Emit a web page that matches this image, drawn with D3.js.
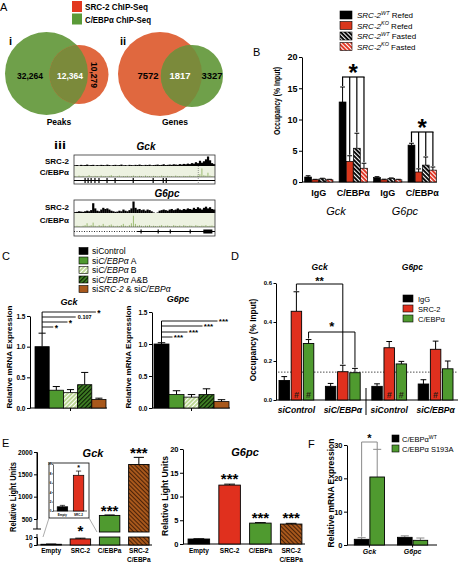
<!DOCTYPE html>
<html><head><meta charset="utf-8">
<script src="https://cdn.jsdelivr.net/npm/d3@7/dist/d3.min.js"></script>
<style>html,body{margin:0;padding:0;background:#fff;}svg{display:block;}</style>
</head><body>
<svg id="fig" width="458" height="565" xmlns="http://www.w3.org/2000/svg"></svg>
<script>
// ================= DATA =================
// A (i, ii): Venn diagrams
const legendA = ["SRC-2 ChIP-Seq", "C/EBPα ChIP-Seq"];
const vennPeaksLabels = ["32,264", "12,364", "10,279"];
const vennPeaksSets = [44628, 22643];          // C/EBPα peaks, SRC-2 peaks
const vennGenesLabels = ["7572", "1817", "3327"];
const vennGenesSets = [9389, 5144];            // SRC-2 genes, C/EBPα genes
// A (iii): ChIP-Seq tracks (relative signal per bin)
const gckSrc2 = [0.08,0.1,0.06,0.12,0.08,0.1,0.15,0.08,0.1,0.12,0.06,0.1,0.08,0.12,0.1,0.08,0.14,0.1,0.06,0.1,
  0.12,0.08,0.1,0.15,0.08,0.1,0.06,0.12,0.1,0.08,0.12,0.1,0.15,0.1,0.08,0.12,0.1,0.14,0.08,0.1,
  0.12,0.15,0.1,0.12,0.18,0.1,0.12,0.15,0.12,0.18,0.15,0.12,0.2,0.15,0.22,0.18,0.25,0.2,0.3,0.25,
  0.4,0.3,0.55,0.35,0.5,0.7,1.0,0.6,0.3,0.2];
const gckCebpa = [0.1,0.05,0.15,0.08,0.12,0.05,0.1,0.2,0.08,0.05,0.12,0.1,0.05,0.15,0.08,0.1,0.05,0.12,0.2,0.08,
  0.05,0.1,0.15,0.05,0.1,0.08,0.12,0.05,0.1,0.15,0.08,0.05,0.12,0.1,0.05,0.15,0.08,0.1,0.05,0.12,
  0.1,0.05,0.08,0.15,0.1,0.05,0.12,0.08,0.1,0.05,0.15,0.08,0.1,0.05,0.12,0.1,0.08,0.15,0.1,0.12,
  0.08,0.15,0.3,0.9,0.2,0.15,0.45,0.15,0.1,0.05];
const gckExons = [5.5, 7, 8.5, 10.4, 12.4, 16.4, 20.4, 29.4, 39.3, 44.3, 45.8];
const gckTss = 61.7;
const g6pcSrc2 = [0.08,0.1,0.15,0.12,0.1,0.15,0.2,0.15,0.25,0.85,0.4,0.2,0.15,0.3,0.45,0.35,0.4,0.3,0.2,0.15,
  0.1,0.12,0.2,0.15,0.3,0.2,0.15,0.25,0.4,1.0,0.45,0.3,0.35,0.25,0.3,0.2,0.3,0.25,0.15,0.05,
  0.0,0.05,0.2,0.25,0.3,0.25,0.2,0.3,0.35,0.25,0.3,0.4,0.3,0.25,0.35,0.3,0.4,0.35,0.3,0.45,
  0.35,0.5,0.4,0.3,0.45,0.55,0.4,0.5,0.35,0.3];
const g6pcCebpa = [0.05,0.1,0.08,0.05,0.1,0.15,0.3,0.1,0.15,0.35,0.1,0.05,0.15,0.1,0.25,0.1,0.05,0.15,0.2,0.1,
  0.05,0.1,0.08,0.15,0.25,0.1,0.05,0.15,0.3,0.9,0.25,0.1,0.15,0.1,0.05,0.12,0.1,0.15,0.05,0.1,
  0.08,0.05,0.1,0.15,0.05,0.1,0.12,0.08,0.05,0.15,0.1,0.08,0.12,0.05,0.15,0.1,0.08,0.12,0.1,0.05,
  0.15,0.1,0.08,0.12,0.1,0.15,0.08,0.1,0.12,0.05];
const g6pcGeneStart = 31.3;
const g6pcExons = [33.3, 41.8, 47.8, 57.7];
const g6pcBlock = [64.2, 68.7];

// B
const bGroups = ["IgG", "C/EBPα", "IgG", "C/EBPα"];
const bGenes = ["Gck", "G6pc"];
const bLegendSup = ["WT", "KO", "WT", "KO"];
const bLegendCond = ["Refed", "Refed", "Fasted", "Fasted"];
const bWtRefed = [0.8, 12.8, 0.7, 5.9];
const bWtRefedErr = [0.2, 2.4, 0.15, 0.3];
const bKoRefed = [0.35, 3.3, 0.35, 1.6];
const bKoRefedErr = [0.08, 0.9, 0.1, 0.5];
const bWtFasted = [0.5, 5.4, 0.55, 2.7];
const bWtFastedErr = [0.1, 2.4, 0.1, 1.3];
const bKoFasted = [0.35, 2.2, 0.35, 1.9];
const bKoFastedErr = [0.08, 0.8, 0.08, 0.5];
const bTicks = [0, 5, 10, 15, 20];
const bSigGroups = [1, 3];

// C
const cLegend = ["siControl", "siC/EBPα A", "siC/EBPα B", "siC/EBPα A&B", "siSRC-2 & siC/EBPα"];
const cGck = [1.0, 0.29, 0.25, 0.38, 0.14];
const cGckErr = [0.22, 0.06, 0.05, 0.2, 0.02];
const cG6pc = [1.0, 0.21, 0.17, 0.21, 0.10];
const cG6pcErr = [0.02, 0.06, 0.04, 0.09, 0.03];
const cGckSig = ["*", "0.107", "*", "*"];        // vs bars 4,3,2,1 (top to bottom)
const cG6pcSig = ["***", "***", "***", "***"];
const cTicks = [0, 0.5, 1.0, 1.5];

// D
const dGroups = ["siControl", "siC/EBPα", "siControl", "siC/EBPα"];
const dGenes = ["Gck", "G6pc"];
const dSeries = ["IgG", "SRC-2", "C/EBPα"];
const dIgG = [0.10, 0.07, 0.07, 0.082];
const dIgGErr = [0.02, 0.015, 0.013, 0.022];
const dSrc2 = [0.455, 0.145, 0.268, 0.26];
const dSrc2Err = [0.1, 0.033, 0.032, 0.042];
const dCebpa = [0.29, 0.14, 0.185, 0.16];
const dCebpaErr = [0.02, 0.022, 0.013, 0.04];
const dSrc2Hash = [1, 0, 1, 1];
const dCebpaHash = [1, 0, 1, 0];
const dThreshold = 0.143;
const dTicks = [0, 0.2, 0.4, 0.6];

// E
const eLabels = [["Empty"], ["SRC-2"], ["C/EBPa"], ["SRC-2", "C/EBPa"]];
const eGck = [0.9, 7.6, 580, 1720];
const eGckErr = [0.3, 0.9, 10, 160];
const eGckSig = ["", "*", "***", "***"];
const eG6pc = [1.05, 12.4, 4.4, 4.2];
const eG6pcErr = [0.05, 0.2, 0.1, 0.15];
const eG6pcSig = ["", "***", "***", "***"];
const eGckTicksUp = [500, 1000, 1500, 2000];
const eGckTicksLow = [0, 10];
const eG6pcTicks = [0, 5, 10, 15, 20];
const eInsetLabels = ["Empty", "SRC-2"];
const eInsetTicks = [0, 2, 4, 6, 8, 10];

// F
const fGroups = ["Gck", "G6pc"];
const fWt = [1.7, 2.3];
const fWtErr = [0.5, 0.45];
const fS193A = [20.4, 1.4];
const fS193AErr = [8.3, 0.7];
const fTicks = [0, 10, 20, 30];

// ================= HELPERS =================
const FONT = 'Arial, "Liberation Sans", Helvetica, sans-serif';
const svg = d3.select("#fig").attr("font-family", FONT);
svg.append("rect").attr("width", 458).attr("height", 565).attr("fill", "#fff");
const defs = svg.append("defs");
const RED = "#e0301e", GREEN = "#4f9a2f", BROWN = "#a8581c";
const STAR = 0.37; // asterisk glyph centre above baseline (em)

function T(g, x, y, s, o = {}) {
  const t = g.append("text").attr("x", x).attr("y", y)
    .attr("font-size", o.fs || 9)
    .attr("font-weight", o.b ? "bold" : "normal")
    .attr("font-style", o.i ? "italic" : "normal")
    .attr("text-anchor", o.a || "start")
    .attr("fill", o.c || "#000").text(s);
  if (o.r) t.attr("transform", `rotate(${o.r},${x},${y})`);
  if (o.len) t.attr("textLength", o.len).attr("lengthAdjust", "spacingAndGlyphs");
  return t;
}
// star text centred vertically on y
function S(g, x, yc, s, fs) { return T(g, x, yc + STAR * fs, s, { fs, b: true, a: "middle" }); }
function R(g, x, y, parts, o = {}) {
  const fs = o.fs || 8;
  const t = g.append("text").attr("x", x).attr("y", y).attr("font-size", fs)
    .attr("font-weight", o.b ? "bold" : "normal").attr("text-anchor", o.a || "start").attr("fill", "#000");
  let up = false;
  parts.forEach(p => {
    const s = t.append("tspan").text(p.t).attr("font-style", p.i ? "italic" : "normal");
    if (p.sup) { s.attr("font-size", fs * 0.68).attr("dy", -fs * 0.38); up = true; }
    else if (up) { s.attr("dy", fs * 0.38); up = false; }
  });
  return t;
}
function hatch(id, bg, fg, angle, size, lw) {
  const p = defs.append("pattern").attr("id", id).attr("patternUnits", "userSpaceOnUse")
    .attr("width", size).attr("height", size).attr("patternTransform", `rotate(${angle})`);
  p.append("rect").attr("width", size).attr("height", size).attr("fill", bg);
  p.append("rect").attr("width", lw).attr("height", size).attr("fill", fg);
}
hatch("hBlk", "#000", "#fff", -45, 3, 1.1);
hatch("hRed", RED, "#fff", -45, 3, 1.1);
hatch("hLight", "#b9d68f", "#fff", 45, 3, 1.1);
hatch("hDark", "#3f7f24", "#0b1a05", 45, 3, 1.1);
hatch("hBrown", BROWN, "#4a2208", -45, 3, 1.0);

function yAxis(g, scale, x, ticks, fs, fmt, len = 3) {
  const a = g.append("g").attr("transform", `translate(${x},0)`)
    .call(d3.axisLeft(scale).tickValues(ticks).tickSize(len).tickSizeOuter(0).tickPadding(1.5)
      .tickFormat(fmt || (d => d)));
  a.attr("font-family", FONT).attr("font-size", fs).attr("font-weight", "bold");
  a.selectAll("path,line").attr("stroke", "#000").attr("stroke-width", 1);
  a.selectAll("text").attr("fill", "#000");
  return a;
}
function line(g, x1, y1, x2, y2, o = {}) {
  const l = g.append("line").attr("x1", x1).attr("y1", y1).attr("x2", x2).attr("y2", y2)
    .attr("stroke", o.c || "#000").attr("stroke-width", o.w || 1);
  if (o.dash) l.attr("stroke-dasharray", o.dash);
  return l;
}
function bar(g, x, w, yTop, yBot, fill, sw = 0.9) {
  g.append("rect").attr("x", x).attr("y", yTop).attr("width", w).attr("height", Math.max(0, yBot - yTop))
    .attr("fill", fill).attr("stroke", "#000").attr("stroke-width", sw);
}
function err(g, cx, y0, y1, cap, c = "#000", w = 1) {
  line(g, cx, y0, cx, y1, { c, w });
  line(g, cx - cap / 2, y1, cx + cap / 2, y1, { c, w });
}

// ================= PANEL A =================
const gA = svg.append("g");
T(gA, 0, 11, "A", { fs: 11 });
const aLegendColors = ["#e2381f", "#5a9a38"];
legendA.forEach((s, i) => {
  gA.append("rect").attr("x", 72).attr("y", 1 + i * 12.5).attr("width", 10).attr("height", 11).attr("fill", aLegendColors[i]);
  T(gA, 85, 10 + i * 12.5, s, { fs: 9.5, b: true, len: i ? 66 : 63 });
});
const VG = "#6fa04a", VR = "#e0683f", VO = "#7b8a3b";
function venn(id, big, small, bigColor, smallColor) {
  gA.append("circle").attr("cx", big.x).attr("cy", big.y).attr("r", big.r).attr("fill", bigColor);
  gA.append("circle").attr("cx", small.x).attr("cy", small.y).attr("r", small.r).attr("fill", smallColor);
  defs.append("clipPath").attr("id", id).append("circle").attr("cx", small.x).attr("cy", small.y).attr("r", small.r);
  gA.append("circle").attr("cx", big.x).attr("cy", big.y).attr("r", big.r).attr("fill", VO).attr("clip-path", `url(#${id})`);
}
const rPeaks = d3.scaleSqrt().domain([0, d3.max(vennPeaksSets)]).range([0, 41.5]);
const pBig = { x: 46.5, y: 73.5, r: rPeaks(vennPeaksSets[0]) };
const pSmall = { x: 108.5 - rPeaks(vennPeaksSets[1]), y: 74.5, r: rPeaks(vennPeaksSets[1]) };
venn("clipPeaks", pBig, pSmall, VG, VR);
const rGenes = d3.scaleSqrt().domain([0, d3.max(vennGenesSets)]).range([0, 42]);
const gBig = { x: 160, y: 74, r: rGenes(vennGenesSets[0]) };
const gSmall = { x: 223 - rGenes(vennGenesSets[1]), y: 76, r: rGenes(vennGenesSets[1]) };
venn("clipGenes", gBig, gSmall, VR, VG);
T(gA, 30, 79, vennPeaksLabels[0], { fs: 9.5, b: true, a: "middle", len: 26 });
T(gA, 70, 79, vennPeaksLabels[1], { fs: 9.5, b: true, a: "middle", c: "#fff", len: 26 });
T(gA, 91, 75, vennPeaksLabels[2], { fs: 9.5, b: true, a: "middle", r: 90, len: 26 });
T(gA, 148, 79, vennGenesLabels[0], { fs: 9.5, b: true, a: "middle" });
T(gA, 180, 79, vennGenesLabels[1], { fs: 9.5, b: true, a: "middle", c: "#fff" });
T(gA, 212, 79, vennGenesLabels[2], { fs: 9.5, b: true, a: "middle" });
T(gA, 59, 125, "Peaks", { fs: 8.5, b: true, a: "middle" });
T(gA, 175, 125, "Genes", { fs: 8.5, b: true, a: "middle" });
T(gA, 9, 45, "i", { fs: 11, b: true });
T(gA, 120, 45, "ii", { fs: 11, b: true });
T(gA, 54, 149, "iii", { fs: 11, b: true, len: 12 });

function track(title, titleX, titleY, top, h1, h2, h3, src, ceb) {
  const x = d3.scaleLinear().domain([0, src.length]).range([74, 215]);
  T(gA, titleX, titleY, title, { fs: 10, b: true, i: true, a: "middle" });
  const y1 = d3.scaleLinear().domain([0, 1]).range([top + h1, top + 1.5]);
  const t2 = top + h1;
  const y2 = d3.scaleLinear().domain([0, 1]).range([t2 + h2, t2 + 1.5]);
  gA.append("rect").attr("x", 74).attr("y", t2).attr("width", 141).attr("height", h2).attr("fill", "#edf2e1");
  gA.selectAll(null).data(src).join("rect")
    .attr("x", (d, i) => x(i)).attr("y", d => y1(d)).attr("width", (d, i) => x(i + 1) - x(i) + 0.2)
    .attr("height", d => y1(0) - y1(d)).attr("fill", "#000");
  gA.selectAll(null).data(ceb).join("line")
    .attr("x1", (d, i) => x(i) + 1).attr("x2", (d, i) => x(i) + 1)
    .attr("y1", y2(0)).attr("y2", d => y2(d)).attr("stroke", "#93b567").attr("stroke-width", 0.9);
  gA.append("rect").attr("x", 74).attr("y", top).attr("width", 141).attr("height", h1 + h2 + h3)
    .attr("fill", "none").attr("stroke", "#333").attr("stroke-width", 0.8);
  line(gA, 74, t2 + h2, 215, t2 + h2, { c: "#333", w: 0.6 });
  T(gA, 69, top + h1 / 2 + 3, "SRC-2", { fs: 8, b: true, a: "end" });
  T(gA, 69, t2 + h2 / 2 + 3, "C/EBPα", { fs: 8, b: true, a: "end" });
  return { x, gy: t2 + h2 + h3 / 2, t3: t2 + h2 };
}
const tg = track("Gck", 146, 150, 155, 11, 11, 7, gckSrc2, gckCebpa);
line(gA, 74, tg.gy, 215, tg.gy, { w: 1 });
gckExons.forEach(e => line(gA, tg.x(e), tg.gy - 2.5, tg.x(e), tg.gy + 2.5, { w: 1.2 }));
line(gA, tg.x(gckTss), 166, tg.x(gckTss), 184, { c: "#555", w: 0.6, dash: "1,1" });
const t6 = track("G6pc", 167, 197, 200, 13, 14, 9, g6pcSrc2, g6pcCebpa);
line(gA, 74, t6.gy, t6.x(g6pcGeneStart), t6.gy, { w: 0.8, dash: "1,1.5" });
line(gA, t6.x(g6pcGeneStart), t6.gy, 215, t6.gy, { w: 1 });
g6pcExons.forEach(e => line(gA, t6.x(e), t6.gy - 2, t6.x(e), t6.gy + 2, { w: 1.2 }));
gA.append("rect").attr("x", t6.x(g6pcBlock[0])).attr("y", t6.gy - 2).attr("width", t6.x(g6pcBlock[1]) - t6.x(g6pcBlock[0]))
  .attr("height", 4).attr("fill", "#000");

// ================= PANEL B =================
const gB = svg.append("g");
T(gB, 253, 56, "B", { fs: 11 });
const bFills = ["#000", "#d9361c", "url(#hBlk)", "url(#hRed)"];
bLegendSup.forEach((s, i) => {
  gB.append("rect").attr("x", 340).attr("y", 11 + i * 10.5).attr("width", 12).attr("height", 8)
    .attr("fill", bFills[i]).attr("stroke", "#000").attr("stroke-width", 0.6);
  R(gB, 357, 18 + i * 10.5, [{ t: "SRC-2", i: true }, { t: s, i: true, sup: true }, { t: " " + bLegendCond[i] }], { fs: 8 });
});
const bY = d3.scaleLinear().domain([0, 20]).range([182, 57]);
yAxis(gB, bY, 302, bTicks, 9, null, 3);
line(gB, 302, 182, 437, 182);
T(gB, 280, 101, "Occupancy (% Input)", { fs: 9, b: true, a: "middle", r: -90, len: 68 });
const bX0 = d3.scaleBand().domain(d3.range(4)).range([304, 437]).paddingInner(0.18).paddingOuter(0.02);
const bX1 = d3.scaleBand().domain(d3.range(4)).range([0, bX0.bandwidth()]).paddingInner(0.04);
const bVals = [bWtRefed, bKoRefed, bWtFasted, bKoFasted];
const bErrs = [bWtRefedErr, bKoRefedErr, bWtFastedErr, bKoFastedErr];
bGroups.forEach((gname, g) => {
  bVals.forEach((arr, s) => {
    const x = bX0(g) + bX1(s), w = bX1.bandwidth();
    err(gB, x + w / 2, bY(arr[g]), bY(arr[g] + bErrs[s][g]), w * 0.7);
    bar(gB, x, w, bY(arr[g]), bY(0), bFills[s], 0.7);
  });
  T(gB, bX0(g) + bX0.bandwidth() / 2, 196, gname, { fs: 9, b: true, a: "middle" });
});
bGenes.forEach((gn, k) => {
  const c = (bX0(2 * k) + bX0(2 * k + 1) + bX0.bandwidth()) / 2;
  T(gB, c, 215, gn, { fs: 11, i: true, a: "middle" });
});
bSigGroups.forEach((g, k) => {
  const by = [77, 132][k];
  const cs = bVals.map((arr, s) => bX0(g) + bX1(s) + bX1.bandwidth() / 2);
  bVals.forEach((arr, s) => line(gB, cs[s], by, cs[s], bY(arr[g] + bErrs[s][g]) - 1, { w: 1.2 }));
  line(gB, cs[0] - 0.6, by, cs[3] + 0.6, by, { w: 1.2 });
  S(gB, (cs[0] + cs[3]) / 2, by - 5, "*", 24);
});

// ================= PANEL C =================
const gC = svg.append("g");
T(gC, 2, 260, "C", { fs: 11 });
const cFills = ["#000", GREEN, "url(#hLight)", "url(#hDark)", BROWN];
const cParts = [
  [{ t: "siControl" }],
  [{ t: "si" }, { t: "C/EBPα", i: true }, { t: " A" }],
  [{ t: "si" }, { t: "C/EBPα", i: true }, { t: " B" }],
  [{ t: "si" }, { t: "C/EBPα", i: true }, { t: " A&B" }],
  [{ t: "si" }, { t: "SRC-2", i: true }, { t: " & si" }, { t: "C/EBPα", i: true }]
];
cLegend.forEach((s, i) => {
  const cy = 251 + i * 9.5;
  gC.append("rect").attr("x", 79).attr("y", cy - 3.5).attr("width", 9).attr("height", 7)
    .attr("fill", cFills[i]).attr("stroke", "#000").attr("stroke-width", 0.6);
  R(gC, 92, cy + 3, cParts[i], { fs: 8.5 });
});
function cPlot(vals, errs, title, titleX, titleY, ax, x0, x1, yTop, labelX) {
  const y = d3.scaleLinear().domain([0, 1.5]).range([408, yTop]);
  const x = d3.scaleBand().domain(d3.range(vals.length)).range([x0, x1]);
  yAxis(gC, y, ax, cTicks, 6.5, d3.format(".1f"), 3);
  line(gC, ax, 408, x1 + 1, 408);
  line(gC, (x0 + x1) / 2, 408, (x0 + x1) / 2, 411);
  T(gC, labelX, 357, "Relative mRNA Expression", { fs: 8, b: true, a: "middle", r: -90, len: 103 });
  T(gC, titleX, titleY, title, { fs: 9, b: true, i: true, a: "middle" });
  vals.forEach((v, i) => {
    const w = x.bandwidth();
    err(gC, x(i) + w / 2, y(v), y(v + errs[i]), w * 0.5);
    bar(gC, x(i), w, y(v), 408, cFills[i], 0.8);
  });
  return { x, y };
}
const cg = cPlot(cGck, cGckErr, "Gck", 69, 305, 30, 35, 106, 316, 12);
{
  const cx = cg.x(0) + cg.x.bandwidth() / 2;
  const ys = [312, 317, 322, 327];
  line(gC, cx, ys[0], cx, cg.y(cGck[0] + cGckErr[0]));
  cGckSig.forEach((s, k) => {
    const target = 4 - k;
    const tc = cg.x(target) + cg.x.bandwidth() / 2;
    const isNum = s.length > 2;
    const half = isNum ? 8 : 2;
    line(gC, cx, ys[k], tc - half - 1, ys[k], { w: 0.9 });
    if (isNum) T(gC, tc, ys[k] + 2, s, { fs: 5.5, b: true, a: "middle" });
    else S(gC, tc, ys[k] + 0.5, s, 8.5);
  });
}
const c6 = cPlot(cG6pc, cG6pcErr, "G6pc", 178, 302, 152, 154, 229, 312, 131);
{
  const cx = c6.x(0) + c6.x.bandwidth() / 2;
  const ys = [321, 326, 332, 337];
  line(gC, cx, ys[0], cx, c6.y(cG6pc[0] + cG6pcErr[0]));
  cG6pcSig.forEach((s, k) => {
    const target = 4 - k;
    const tc = c6.x(target) + c6.x.bandwidth() / 2 + 2;
    line(gC, cx, ys[k], tc - 6, ys[k], { w: 0.9 });
    S(gC, tc, ys[k] + 0.3, s, 8);
  });
}

// ================= PANEL D =================
const gD = svg.append("g");
T(gD, 231, 260, "D", { fs: 11 });
const dY = d3.scaleLinear().domain([0, 0.6]).range([400, 283]);
yAxis(gD, dY, 276, dTicks, 6, d3.format(".1f"), 2.5);
line(gD, 276, 400, 458, 400);
T(gD, 255.5, 340, "Occupancy (% Input)", { fs: 8.3, b: true, a: "middle", r: -90 });
const dX0 = d3.scaleBand().domain(d3.range(4)).range([279, 453]).paddingInner(0.25);
const dX1 = d3.scaleBand().domain(d3.range(3)).range([0, dX0.bandwidth()]).paddingInner(0.14);
const dFills = ["#000", RED, GREEN];
const dVals = [dIgG, dSrc2, dCebpa], dErrs = [dIgGErr, dSrc2Err, dCebpaErr], dHash = [null, dSrc2Hash, dCebpaHash];
const dC = (g, s) => dX0(g) + dX1(s) + dX1.bandwidth() / 2;
line(gD, 278, dY(dThreshold), 458, dY(dThreshold), { w: 0.7, dash: "1.5,1.5" });
dGroups.forEach((gn, g) => {
  dVals.forEach((arr, s) => {
    const x = dX0(g) + dX1(s), w = dX1.bandwidth();
    err(gD, x + w / 2, dY(arr[g]), dY(arr[g] + dErrs[s][g]), w * 0.55);
    bar(gD, x, w, dY(arr[g]), 400, dFills[s], 0.9);
    if (dHash[s] && dHash[s][g]) T(gD, x + w / 2, 398, "#", { fs: 9, b: true, a: "middle", c: "#2a1a14" });
  });
  T(gD, dX0(g) + dX0.bandwidth() / 2, 413, gn, { fs: 8.5, b: true, i: true, a: "middle" });
});
line(gD, 366, 388, 366, 415, { w: 1 });
dGenes.forEach((gn, k) => {
  const c = (dX0(2 * k) + dX0(2 * k + 1) + dX0.bandwidth()) / 2;
  T(gD, c, 270, gn, { fs: 8.5, b: true, i: true, a: "middle" });
});
// significance
{
  const xa = dC(0, 1), xb = dC(1, 1), by = 284;
  line(gD, xa, by, xb, by);
  line(gD, xa, by, xa, dY(dSrc2[0] + dSrc2Err[0]) - 1);
  line(gD, xb, by, xb, dY(dSrc2[1] + dSrc2Err[1]) - 1);
  S(gD, (xa + xb) / 2, by - 3.5, "**", 11);
  const xc = dC(0, 2), xd = dC(1, 2), cy = 332;
  line(gD, xc, cy, xd, cy);
  line(gD, xc, cy, xc, dY(dCebpa[0] + dCebpaErr[0]) - 1);
  line(gD, xd, cy, xd, dY(dCebpa[1] + dCebpaErr[1]) - 1);
  S(gD, (xc + xd) / 2, cy - 6, "*", 13);
}
dSeries.forEach((s, i) => {
  gD.append("rect").attr("x", 403).attr("y", 295 + i * 10).attr("width", 10).attr("height", 7)
    .attr("fill", dFills[i]).attr("stroke", "#000").attr("stroke-width", 0.6);
  T(gD, 418, 301.5 + i * 10, s, { fs: 7.5 });
});

// ================= PANEL E =================
const gE = svg.append("g");
T(gE, 2, 447, "E", { fs: 11 });
const eFills = ["#000", RED, GREEN, "url(#hBrown)"];
// Gck (broken axis)
const eLow = d3.scaleLinear().domain([0, 10]).range([545, 537]);
const eUp = d3.scaleLinear().domain([500, 2000]).range([519, 452]);
yAxis(gE, eUp, 37, eGckTicksUp, 6.5, null, 3);
yAxis(gE, eLow, 37, eGckTicksLow, 6.5, null, 3);
line(gE, 37, 452, 37, 529);
line(gE, 37, 534, 37, 545);
line(gE, 33, 529, 41, 529);
line(gE, 37, 545, 152, 545);
T(gE, 15.5, 497, "Relative Light Units", { fs: 8.5, b: true, a: "middle", r: -90, len: 70 });
T(gE, 93, 457, "Gck", { fs: 11, b: true, i: true, a: "middle" });
const eX = d3.scaleBand().domain(d3.range(4)).range([38, 152]).paddingInner(0.3).paddingOuter(0.1);
eGck.forEach((v, i) => {
  const x = eX(i), w = eX.bandwidth(), cx = x + w / 2;
  if (v <= 10) {
    err(gE, cx, eLow(v), eLow(v + eGckErr[i]), w * 0.5);
    bar(gE, x, w, eLow(v), 545, eFills[i], 0.9);
  } else {
    err(gE, cx, eUp(v), eUp(v + eGckErr[i]), w * 0.5);
    bar(gE, x, w, eUp(v), 532, eFills[i], 0.9);
    bar(gE, x, w, 537, 545, eFills[i], 0.9);
  }
  const top = v <= 10 ? eLow(v + eGckErr[i]) - 8 : eUp(v + eGckErr[i]) - 5;
  if (eGckSig[i]) S(gE, cx, top, eGckSig[i], 15);
  eLabels[i].forEach((l, k) => T(gE, cx, 553 + k * 9, l, { fs: 6.5, b: true, a: "middle" }));
});
// inset
{
  gE.append("rect").attr("x", 49).attr("y", 463).attr("width", 40).attr("height", 55)
    .attr("fill", "#fff").attr("stroke", "#000").attr("stroke-width", 0.8);
  line(gE, 49, 518, 43, 537, { c: "#888", w: 0.7 });
  line(gE, 89, 518, 97, 532, { c: "#888", w: 0.7 });
  const iy = d3.scaleLinear().domain([0, 10]).range([511, 464]);
  const ix = d3.scaleBand().domain(d3.range(2)).range([54, 87]).paddingInner(0.35).paddingOuter(0.2);
  const ia = gE.append("g").attr("transform", "translate(53,0)")
    .call(d3.axisLeft(iy).tickValues(eInsetTicks).tickSize(1.2).tickSizeOuter(0).tickPadding(0.5));
  ia.attr("font-size", 3).attr("font-family", FONT).attr("font-weight", "bold");
  ia.selectAll("path,line").attr("stroke", "#000").attr("stroke-width", 0.6);
  line(gE, 53, 511, 87, 511, { w: 0.6 });
  eInsetLabels.forEach((l, i) => {
    const x = ix(i), w = ix.bandwidth();
    err(gE, x + w / 2, iy(eGck[i]), iy(eGck[i] + eGckErr[i]), w * 0.5, "#000", 0.7);
    bar(gE, x, w, iy(eGck[i]), 511, eFills[i], 0.7);
    T(gE, x + w / 2, 515.5, l, { fs: 3, b: true, a: "middle" });
    if (eGckSig[i]) S(gE, x + w / 2, iy(eGck[i] + eGckErr[i]) - 3.5, eGckSig[i], 7);
  });
}
// G6pc
const eY6 = d3.scaleLinear().domain([0, 20]).range([544, 449]);
yAxis(gE, eY6, 183, eG6pcTicks, 7.5, null, 3);
line(gE, 183, 544, 305, 544);
T(gE, 168, 496, "Relative Light Units", { fs: 8.5, b: true, a: "middle", r: -90, len: 80 });
T(gE, 245, 456, "G6pc", { fs: 11, b: true, i: true, a: "middle" });
const eX6 = d3.scaleBand().domain(d3.range(4)).range([185, 305]).paddingInner(0.3).paddingOuter(0.1);
eG6pc.forEach((v, i) => {
  const x = eX6(i), w = eX6.bandwidth(), cx = x + w / 2;
  err(gE, cx, eY6(v), eY6(v + eG6pcErr[i]), w * 0.5);
  bar(gE, x, w, eY6(v), 544, eFills[i], 0.9);
  if (eG6pcSig[i]) S(gE, cx, eY6(v + eG6pcErr[i]) - 5.5, eG6pcSig[i], 15);
  eLabels[i].forEach((l, k) => T(gE, cx, 553 + k * 9, l, { fs: 6.5, b: true, a: "middle" }));
});

// ================= PANEL F =================
const gF = svg.append("g");
T(gF, 308, 448, "F", { fs: 11 });
const fY = d3.scaleLinear().domain([0, 30]).range([545, 445]);
yAxis(gF, fY, 347, fTicks, 7.5, null, 3);
line(gF, 347, 545, 437, 545);
T(gF, 334, 493, "Relative mRNA Expression", { fs: 8.5, b: true, a: "middle", r: -90 });
const fX0 = d3.scaleBand().domain(d3.range(2)).range([350, 432]).paddingInner(0.3).paddingOuter(0.1);
const fX1 = d3.scaleBand().domain(d3.range(2)).range([0, fX0.bandwidth()]).paddingInner(0.06);
const fFills = ["#000", GREEN];
const fVals = [fWt, fS193A], fErrs = [fWtErr, fS193AErr];
fGroups.forEach((gn, g) => {
  fVals.forEach((arr, s) => {
    const x = fX0(g) + fX1(s), w = fX1.bandwidth();
    err(gF, x + w / 2, fY(arr[g]), fY(arr[g] + fErrs[s][g]), w * 0.55, "#8a8a8a", 1);
    bar(gF, x, w, fY(arr[g]), 545, fFills[s], 0.9);
  });
  const c = fX0(g) + fX0.bandwidth() / 2;
  line(gF, c, 545, c, 547.5);
  T(gF, c, 554, gn, { fs: 7, b: true, i: true, a: "middle" });
});
{
  const xa = fX0(0) + fX1(0) + fX1.bandwidth() / 2, xb = fX0(0) + fX1(1) + fX1.bandwidth() / 2, by = 442;
  line(gF, xa, fY(fWt[0] + fWtErr[0]) - 1, xa, by, { c: "#8a8a8a" });
  line(gF, xa, by, xb, by, { c: "#8a8a8a" });
  line(gF, xb, by, xb, fY(fS193A[0] + fS193AErr[0]), { c: "#8a8a8a" });
  S(gF, (xa + xb) / 2, by - 4, "*", 11);
}
const fLegend = [[{ t: "C/EBPα" }, { t: "WT", sup: true }], [{ t: "C/EBPα S193A" }]];
fLegend.forEach((p, i) => {
  gF.append("rect").attr("x", 392).attr("y", 435 + i * 10).attr("width", 7).attr("height", 7)
    .attr("fill", fFills[i]).attr("stroke", "#000").attr("stroke-width", 0.6);
  R(gF, 402, 441.5 + i * 10, p, { fs: 7.5 });
});
</script>
</body></html>
